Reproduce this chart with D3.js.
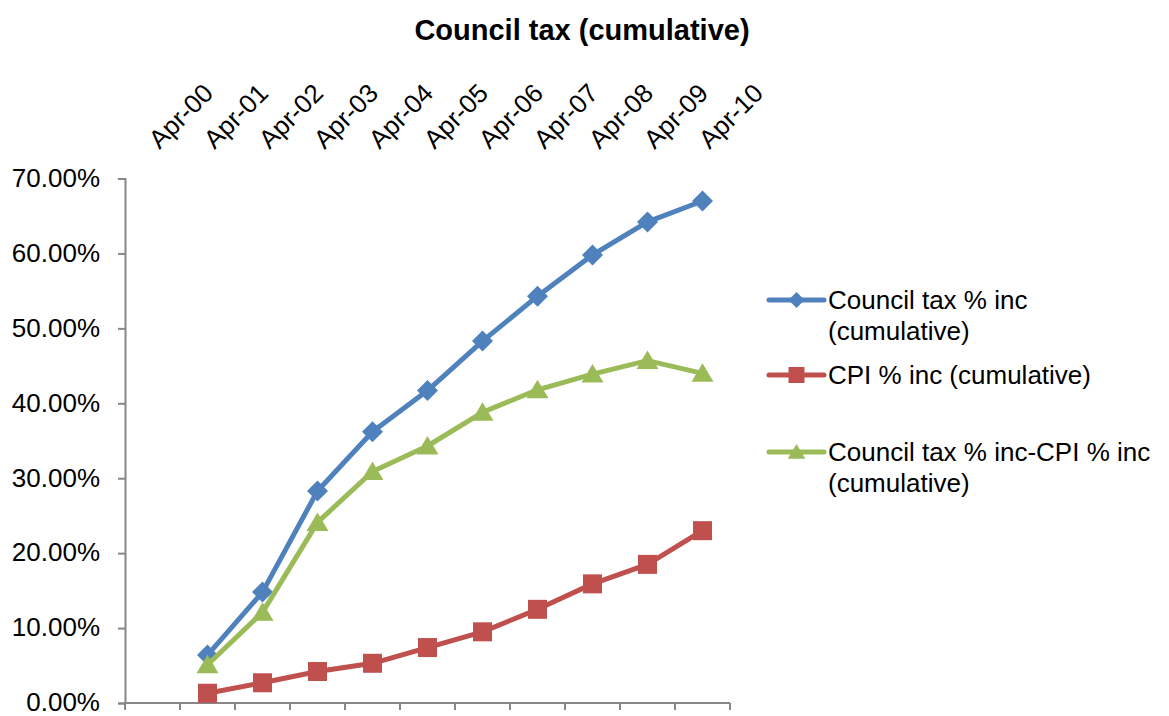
<!DOCTYPE html>
<html>
<head>
<meta charset="utf-8">
<script src="https://cdn.jsdelivr.net/npm/d3@7"></script>
<style>
  html, body { margin: 0; padding: 0; background: #ffffff; }
  svg { display: block; font-family: "Liberation Sans", Arial, sans-serif; }
</style>
</head>
<body>
<svg id="chart" width="1169" height="716"></svg>
<script>
// ---- data ----
const categories = ["Apr-00","Apr-01","Apr-02","Apr-03","Apr-04","Apr-05","Apr-06","Apr-07","Apr-08","Apr-09","Apr-10"];
const dataCategories = ["Apr-01","Apr-02","Apr-03","Apr-04","Apr-05","Apr-06","Apr-07","Apr-08","Apr-09","Apr-10"];
const councilTax = [0.064, 0.148, 0.283, 0.362, 0.417, 0.483, 0.543, 0.598, 0.642, 0.670];
const cpi        = [0.013, 0.027, 0.042, 0.053, 0.074, 0.095, 0.125, 0.159, 0.185, 0.230];
const difference = [0.051, 0.121, 0.241, 0.309, 0.343, 0.388, 0.418, 0.439, 0.457, 0.440];
const yTicks = [0, 0.1, 0.2, 0.3, 0.4, 0.5, 0.6, 0.7];
const yTickLabels = ["0.00%","10.00%","20.00%","30.00%","40.00%","50.00%","60.00%","70.00%"];
const seriesNames = ["Council tax % inc (cumulative)", "CPI % inc (cumulative)", "Council tax % inc-CPI % inc (cumulative)"];

const series = [
  { name: seriesNames[0], values: councilTax, color: "#4F81BD", marker: "diamond",
    legend: ["Council tax % inc", "(cumulative)"] },
  { name: seriesNames[1], values: cpi, color: "#C0504D", marker: "square",
    legend: ["CPI % inc (cumulative)"] },
  { name: seriesNames[2], values: difference, color: "#9BBB59", marker: "triangle",
    legend: ["Council tax % inc-CPI % inc", "(cumulative)"] }
];

// ---- layout ----
const svg = d3.select("#chart");
const axisColor = "#878787";
const plotLeft = 125, plotRight = 730, plotTop = 178.5, plotBottom = 703;

const x = d3.scaleBand().domain(categories).range([plotLeft, plotRight]).paddingInner(0).paddingOuter(0);
const y = d3.scaleLinear().domain([0, 0.7]).range([plotBottom, plotTop]);
const cx = c => x(c) + x.bandwidth() / 2;

// title
svg.append("text")
  .attr("x", 582).attr("y", 40)
  .attr("text-anchor", "middle")
  .attr("font-size", 29).attr("font-weight", "bold")
  .attr("fill", "#000")
  .text("Council tax (cumulative)");

// y axis
const yAxis = d3.axisLeft(y).tickValues(yTicks)
  .tickFormat((d, i) => yTickLabels[i]).tickSize(7).tickPadding(18);
const gy = svg.append("g").attr("transform", `translate(${plotLeft},0)`).call(yAxis);
gy.select(".domain").attr("stroke", axisColor).attr("stroke-width", 2);
gy.selectAll(".tick line").attr("stroke", axisColor).attr("stroke-width", 2);
gy.selectAll(".tick text").attr("font-size", 26).attr("fill", "#000").attr("dy", "0.3em")
  .attr("font-family", "Liberation Sans, Arial, sans-serif");

// x axis (line + ticks at bottom, boundaries)
const boundaries = categories.map(c => x(c)).concat([plotRight]);
svg.append("line").attr("x1", plotLeft).attr("x2", plotRight).attr("y1", plotBottom).attr("y2", plotBottom)
  .attr("stroke", axisColor).attr("stroke-width", 2);
svg.append("g").selectAll("line").data(boundaries).join("line")
  .attr("x1", d => d).attr("x2", d => d)
  .attr("y1", plotBottom).attr("y2", plotBottom + 7)
  .attr("stroke", axisColor).attr("stroke-width", 2);

// category labels at top, rotated
svg.append("g").selectAll("text").data(categories).join("text")
  .attr("transform", d => `translate(${cx(d) + 7},150) rotate(-45)`)
  .attr("text-anchor", "start")
  .attr("font-size", 26).attr("fill", "#000")
  .text(d => d);

// marker drawing
function markerPath(type, s) {
  if (type === "diamond") return `M0,${-s}L${s},0L0,${s}L${-s},0Z`;
  if (type === "square") return `M${-s},${-s}H${s}V${s}H${-s}Z`;
  // triangle
  return `M0,${-s}L${s * 1.1},${s * 0.85}L${-s * 1.1},${s * 0.85}Z`;
}
const markerSize = { diamond: 10.5, square: 9.5, triangle: 10 };

const line = d3.line().x(d => cx(d.c)).y(d => y(d.v));

series.forEach(s => {
  const pts = dataCategories.map((c, i) => ({ c, v: s.values[i] }));
  svg.append("path").datum(pts)
    .attr("d", line)
    .attr("fill", "none")
    .attr("stroke", s.color).attr("stroke-width", 5)
    .attr("stroke-linejoin", "round");
  svg.append("g").selectAll("path").data(pts).join("path")
    .attr("transform", d => `translate(${cx(d.c)},${y(d.v)})`)
    .attr("d", markerPath(s.marker, markerSize[s.marker]))
    .attr("fill", s.color);
});

// legend
const legendY = [300, 375, 452];
series.forEach((s, i) => {
  const g = svg.append("g").attr("transform", `translate(0,${legendY[i]})`);
  g.append("line").attr("x1", 769).attr("x2", 824).attr("y1", 0).attr("y2", 0)
    .attr("stroke", s.color).attr("stroke-width", 5).attr("stroke-linecap", "round");
  g.append("path").attr("transform", "translate(796.5,0)")
    .attr("d", markerPath(s.marker, 8))
    .attr("fill", s.color);
  s.legend.forEach((t, j) => {
    g.append("text").attr("x", 828).attr("y", j * 31)
      .attr("dy", "0.35em")
      .attr("font-size", 26).attr("fill", "#000")
      .text(t);
  });
});
</script>
</body>
</html>
